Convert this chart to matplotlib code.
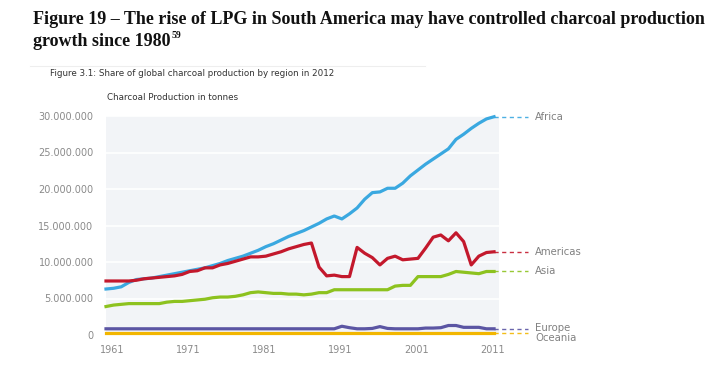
import matplotlib
matplotlib.use("Agg")
import matplotlib.pyplot as plt
import matplotlib.transforms as mtransforms
from matplotlib.ticker import FuncFormatter
import numpy as np

years = list(range(1961, 2013))

africa = [6.3, 6.4, 6.6, 7.2, 7.6, 7.7, 7.8, 8.0, 8.2, 8.4,
          8.6, 8.8, 9.0, 9.2, 9.5, 9.8, 10.2, 10.5, 10.8, 11.2,
          11.6, 12.1, 12.5, 13.0, 13.5, 13.9, 14.3, 14.8, 15.3, 15.9,
          16.3, 15.9, 16.6, 17.4, 18.6, 19.5, 19.6, 20.1, 20.1, 20.8,
          21.8, 22.6, 23.4, 24.1, 24.8, 25.5, 26.8, 27.5, 28.3, 29.0,
          29.6, 29.9]
americas = [7.4, 7.4, 7.4, 7.4, 7.5, 7.7, 7.8, 7.9, 8.0, 8.1,
            8.3, 8.7, 8.8, 9.2, 9.2, 9.6, 9.8, 10.1, 10.4, 10.7,
            10.7, 10.8, 11.1, 11.4, 11.8, 12.1, 12.4, 12.6, 9.3, 8.1,
            8.2, 8.0, 8.0, 12.0, 11.2, 10.6, 9.6, 10.5, 10.8, 10.3,
            10.4, 10.5, 11.9, 13.4, 13.7, 12.9, 14.0, 12.8, 9.6, 10.8,
            11.3, 11.4]
asia = [3.9, 4.1, 4.2, 4.3, 4.3, 4.3, 4.3, 4.3, 4.5, 4.6,
        4.6, 4.7, 4.8, 4.9, 5.1, 5.2, 5.2, 5.3, 5.5, 5.8,
        5.9, 5.8, 5.7, 5.7, 5.6, 5.6, 5.5, 5.6, 5.8, 5.8,
        6.2, 6.2, 6.2, 6.2, 6.2, 6.2, 6.2, 6.2, 6.7, 6.8,
        6.8, 8.0, 8.0, 8.0, 8.0, 8.3, 8.7, 8.6, 8.5, 8.4,
        8.7, 8.7]
europe = [0.85] * 31 + [1.2, 1.0, 0.85, 0.85, 0.9, 1.15, 0.9, 0.85, 0.85, 0.85,
                        0.85, 0.95, 0.95, 1.0, 1.3, 1.3, 1.05, 1.05, 1.05, 0.85,
                        0.85]
oceania = [0.25] * 52

series_names = ["Africa", "Americas", "Asia", "Europe", "Oceania"]
series_values = [africa, americas, asia, europe, oceania]
colors = ["#3aa8e0", "#c3182c", "#8dc21f", "#5b55a3", "#f2b600"]
label_y = [29.9, 11.4, 8.7, 0.95, -0.4]

xtick_years = [1961, 1971, 1981, 1991, 2001, 2011]
ytick_vals = [0, 5, 10, 15, 20, 25, 30]

W, H = 721, 366
fig = plt.figure(figsize=(W / 100, H / 100), dpi=100)

left, right, top, bottom = 106, 499, 116, 335
ax = fig.add_axes([left / W, 1 - bottom / H, (right - left) / W, (bottom - top) / H])
ax.set_facecolor("#f2f4f7")
for s in ax.spines.values():
    s.set_visible(False)

ax.set_xlim(1961, 2012.65)
ax.set_ylim(0, 30)
ax.set_yticks(ytick_vals)
ax.yaxis.grid(True, color="white", linewidth=1.2)
ax.set_axisbelow(True)
ax.tick_params(length=0, colors="#8a8a8a", labelsize=7)

def fmt(v, pos):
    return f"{int(round(v * 1e6)):,}".replace(",", ".")
ax.yaxis.set_major_formatter(FuncFormatter(fmt))
ax.tick_params(axis="y", pad=9)

ax.set_xticks(xtick_years)
ax.set_xticklabels([str(y) for y in xtick_years])
ax.tick_params(axis="x", pad=7)
offset = mtransforms.ScaledTranslation(6 / 100, 0, fig.dpi_scale_trans)
for lbl in ax.get_xticklabels():
    lbl.set_transform(lbl.get_transform() + offset)

for name, vals, c, ly in zip(series_names, series_values, colors, label_y):
    lw = 2.3
    ax.plot(years, vals, color=c, linewidth=lw, solid_joinstyle="round",
            clip_on=False, zorder=3 if name != "Oceania" else 4)
    ax.plot([years[-1], years[-1] + 4.5], [vals[-1], vals[-1]], color=c,
            linewidth=1.0, linestyle=(0, (3, 2.5)), clip_on=False, alpha=0.9)
    ax.text(years[-1] + 5.4, ly, name, color="#808080", fontsize=7.3,
            va="center", ha="left", clip_on=False)

# Titles
tkw = dict(fontsize=13, fontweight="bold", family="Liberation Serif", va="center", ha="left", color="#111111")
fig.text(33 / W, 1 - 20 / H, "Figure 19 \u2013 The rise of LPG in South America may have controlled charcoal production", **tkw)
t2 = fig.text(33 / W, 1 - 41 / H, "growth since 1980", **tkw)
fig.canvas.draw()
bb = t2.get_window_extent()
fig.text((bb.x1 + 1) / W, 1 - 36 / H, "59", fontsize=7, fontweight="bold", family="Liberation Serif",
         va="center", ha="left", color="#111111")

fig.add_artist(plt.Line2D([30 / W, 425 / W], [1 - 66 / H, 1 - 66 / H], color="#eeeeee", linewidth=0.8))
fig.text(50 / W, 1 - 73 / H, "Figure 3.1: Share of global charcoal production by region in 2012",
         fontsize=6.3, va="center", ha="left", color="#333333")
fig.text(107 / W, 1 - 98 / H, "Charcoal Production in tonnes",
         fontsize=6.3, va="center", ha="left", color="#333333")

fig.savefig("out.png", dpi=100, facecolor="white")
